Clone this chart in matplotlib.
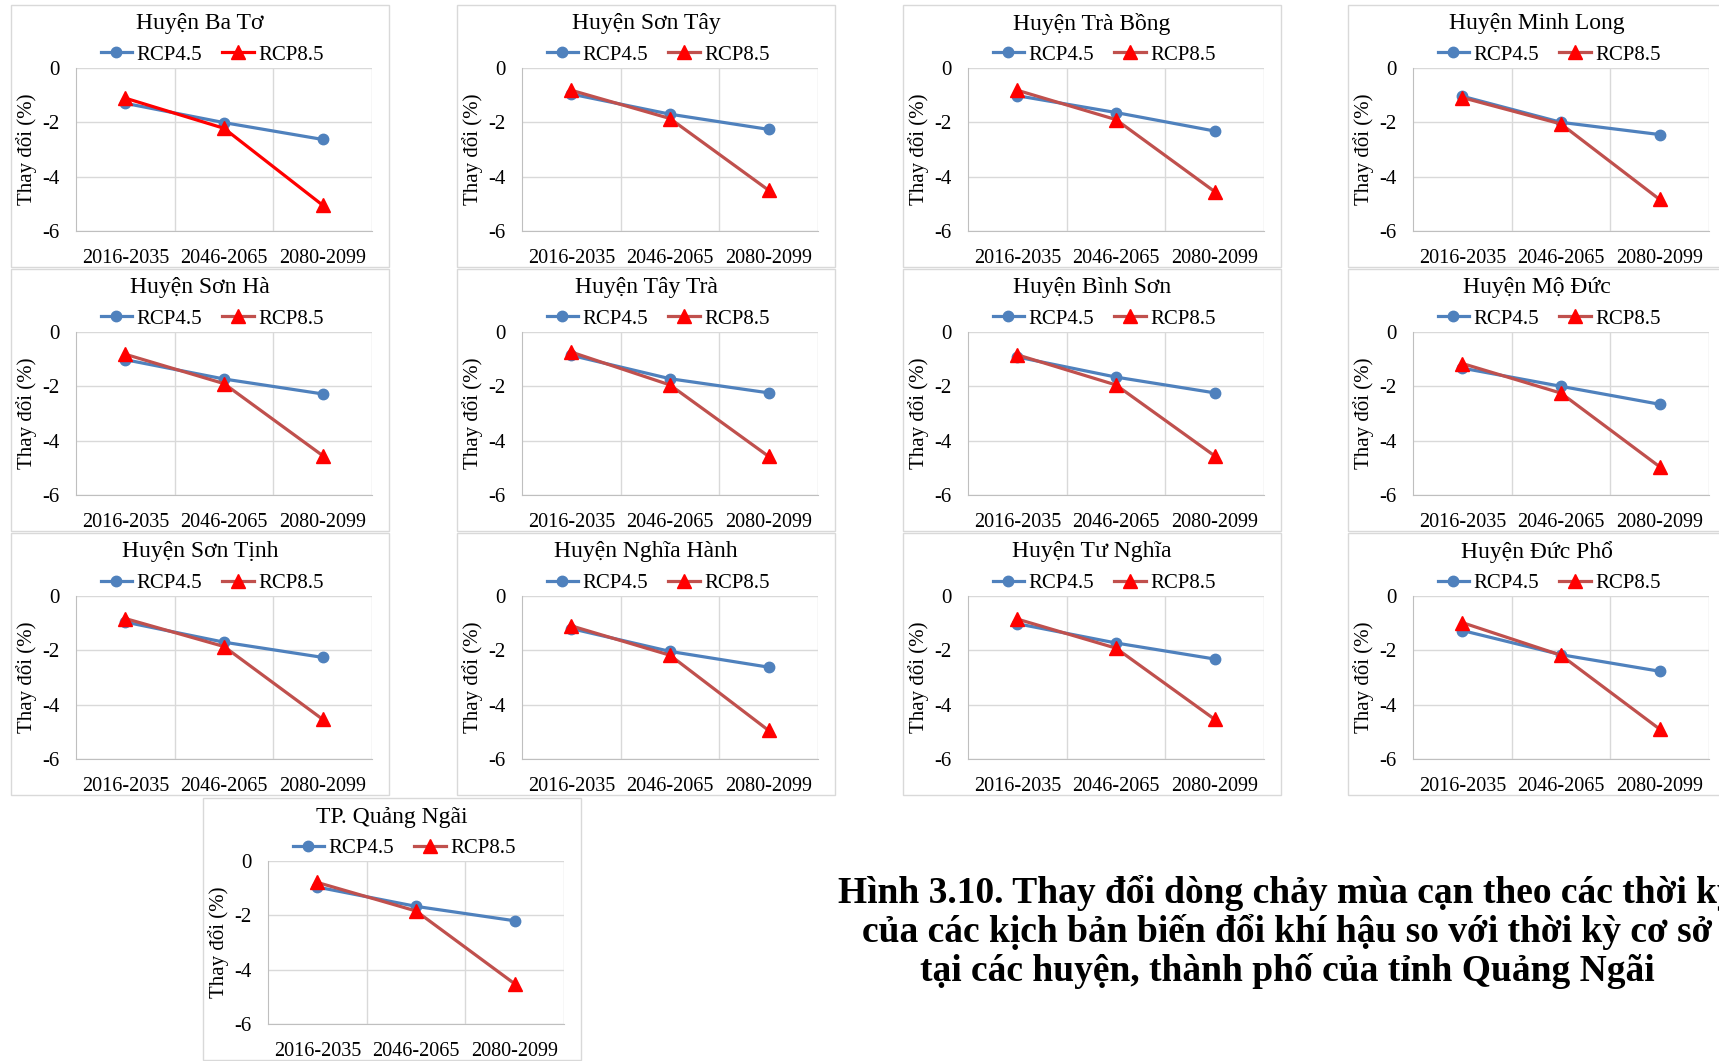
import matplotlib
matplotlib.use("Agg")
import matplotlib.pyplot as plt
from matplotlib.patches import Rectangle
from matplotlib.lines import Line2D

plt.rcParams['font.family'] = ['Liberation Serif', 'DejaVu Serif']

W, H = 1719, 1061
DPI = 100

periods = ['2016-2035', '2046-2065', '2080-2099']

districts = ['Huyện Ba Tơ', 'Huyện Sơn Tây', 'Huyện Trà Bồng', 'Huyện Minh Long',
             'Huyện Sơn Hà', 'Huyện Tây Trà', 'Huyện Bình Sơn', 'Huyện Mộ Đức',
             'Huyện Sơn Tịnh', 'Huyện Nghĩa Hành', 'Huyện Tư Nghĩa', 'Huyện Đức Phổ',
             'TP. Quảng Ngãi']

# thay đổi dòng chảy mùa cạn (%) theo kịch bản RCP4.5
rcp45 = [
    [-1.30, -2.01, -2.63],
    [-0.96, -1.70, -2.26],
    [-1.02, -1.64, -2.32],
    [-1.04, -2.00, -2.45],
    [-1.02, -1.73, -2.28],
    [-0.86, -1.72, -2.24],
    [-0.92, -1.66, -2.24],
    [-1.33, -2.00, -2.66],
    [-0.96, -1.70, -2.26],
    [-1.20, -2.04, -2.62],
    [-1.02, -1.73, -2.32],
    [-1.27, -2.16, -2.77],
    [-0.96, -1.67, -2.20],
]

# theo kịch bản RCP8.5
rcp85 = [
    [-1.11, -2.22, -5.05],
    [-0.82, -1.86, -4.50],
    [-0.82, -1.90, -4.55],
    [-1.09, -2.06, -4.84],
    [-0.82, -1.90, -4.55],
    [-0.74, -1.95, -4.58],
    [-0.84, -1.95, -4.56],
    [-1.16, -2.25, -4.96],
    [-0.83, -1.86, -4.54],
    [-1.10, -2.18, -4.95],
    [-0.85, -1.92, -4.54],
    [-0.98, -2.18, -4.90],
    [-0.79, -1.84, -4.52],
]

caption = ('Hình 3.10. Thay đổi dòng chảy mùa cạn theo các thời kỳ\n'
           'của các kịch bản biến đổi khí hậu so với thời kỳ cơ sở\n'
           'tại các huyện, thành phố của tỉnh Quảng Ngãi')

BLUE = '#4F81BD'
DARKRED = '#C0504D'
RED = '#FF0000'
GRID = '#D9D9D9'

# vị trí khung biểu đồ (pixel, gốc trên-trái)
col_left = [11, 457, 903, 1348]
row_top = [5, 269, 533, 798]
BOX_W, BOX_H = 378, 262
PLOT_DX, PLOT_DY = 65, 63
PLOT_W, PLOT_H = 296, 163

fig = plt.figure(figsize=(W / DPI, H / DPI), dpi=DPI)


def draw_panel(i, bx, by):
    fig.add_artist(Rectangle((bx / W, 1 - (by + BOX_H) / H), BOX_W / W, BOX_H / H,
                             transform=fig.transFigure, fill=False,
                             edgecolor=GRID, linewidth=1.0))
    px, py = bx + PLOT_DX, by + PLOT_DY
    ax = fig.add_axes([px / W, 1 - (py + PLOT_H) / H, PLOT_W / W, PLOT_H / H])

    x = range(len(periods))
    ax.plot(x, rcp45[i], color=BLUE, lw=2.3, marker='o', ms=7.5,
            mfc=BLUE, mec=BLUE, label='RCP4.5', zorder=3)
    line85 = RED if i == 0 else DARKRED
    ax.plot(x, rcp85[i], color=line85, lw=2.3, marker='^', ms=10,
            mfc=RED, mec=RED, label='RCP8.5', zorder=4)

    ax.set_xlim(-0.5, 2.5)
    ax.set_ylim(-6, 0)
    ax.set_yticks([0, -2, -4, -6])
    ax.set_yticklabels(['0', '-2', '-4', '-6'])
    ax.set_xticks(list(x))
    ax.set_xticklabels(periods)
    ax.set_xticks([0.5, 1.5, 2.5], minor=True)
    ax.tick_params(axis='both', which='both', length=0)
    ax.tick_params(axis='x', labelsize=14.5, pad=13)
    ax.tick_params(axis='y', labelsize=15, pad=12)
    ax.grid(True, axis='y', which='major', color=GRID, lw=1.0)
    ax.grid(True, axis='x', which='minor', color=GRID, lw=1.0)
    for s in ['top', 'right']:
        ax.spines[s].set_visible(False)
    ax.spines['left'].set_color('#BFBFBF')
    ax.spines['bottom'].set_color('#BFBFBF')

    ax.text(-0.166, 0.5, 'Thay đổi (%)', transform=ax.transAxes, rotation=90,
            ha='center', va='center', fontsize=15)
    ax.text((BOX_W / 2 - PLOT_DX) / PLOT_W, 1 + 44 / PLOT_H, districts[i],
            transform=ax.transAxes, ha='center', va='center', fontsize=17)

    handles = [Line2D([], [], color=BLUE, lw=2.3, marker='o', ms=7.5),
               Line2D([], [], color=line85, lw=2.3, marker='^', ms=10,
                      mfc=RED, mec=RED)]
    ax.legend(handles, ['RCP4.5', 'RCP8.5'], loc='center', ncol=2,
              bbox_to_anchor=((BOX_W / 2 + 12 - PLOT_DX) / PLOT_W, 1 + 13 / PLOT_H),
              frameon=False, fontsize=15, handlelength=1.5, handletextpad=0.2,
              columnspacing=1.0, borderaxespad=0, borderpad=0)


for i in range(12):
    draw_panel(i, col_left[i % 4], row_top[i // 4])
draw_panel(12, 203, row_top[3])

fig.text(1287 / W, 1 - 932 / H, caption, ha='center', va='center',
         fontsize=27, fontweight='bold', linespacing=1.1)

fig.savefig('out.png', dpi=DPI)
